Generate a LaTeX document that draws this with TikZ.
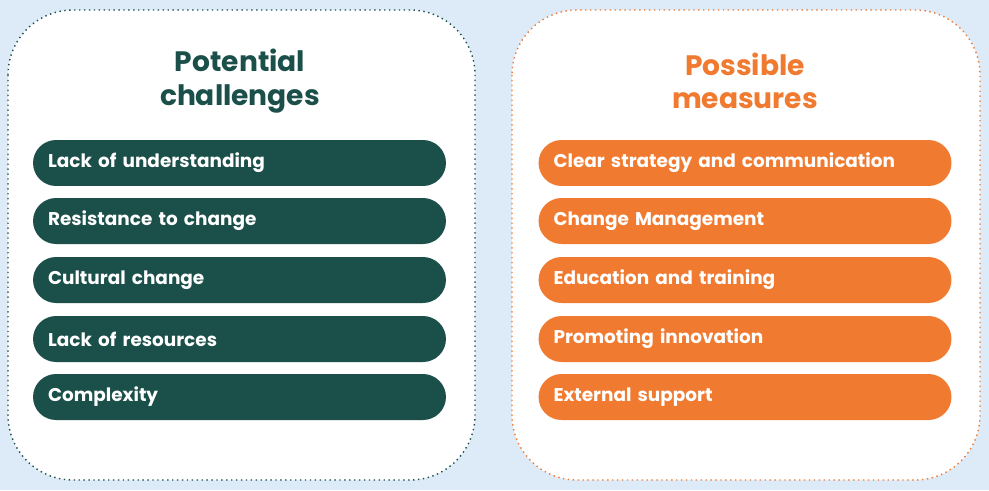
\documentclass[tikz,border=0pt]{standalone}
\usepackage{fontspec}
\setmainfont{Poppins}
\definecolor{bgblue}{HTML}{DDEBF9}
\definecolor{darkgreen}{HTML}{1B4F4A}
\definecolor{orange}{HTML}{F07A30}
\tikzset{
  panel/.style={fill=white, draw=#1, dotted, thick, rounded corners=1.3cm},
  pill/.style={fill=#1, rounded corners=0.46cm, minimum width=8.26cm, minimum height=0.92cm,
    text=white, font=\bfseries\fontsize{10.5}{12}\selectfont, align=left, text width=7.66cm, inner xsep=0.3cm},
  title/.style={font=\bfseries\fontsize{16}{19}\selectfont, align=center, text=#1}
}
\begin{document}
\begin{tikzpicture}[x=0.02cm,y=-0.02cm]
    \fill[bgblue] (0,0) rectangle (989,490);
    \useasboundingbox (0,0) rectangle (989,490);
    \draw[panel=darkgreen] (8,10) rectangle (475,480);
    \draw[panel=orange] (512,10) rectangle (980,480);
    \node[title=darkgreen] (titleL) at (240,81) {Potential\\challenges};
    \node[title=orange] (titleR) at (745,81) {Possible\\measures};
    \foreach \y/\txt [count=\i] in {163/Lack of understanding, 221/Resistance to change,
        280/Cultural change, 339/Lack of resources, 397/Complexity}
      \node[pill=darkgreen] (ch\i) at (239.5,\y) {\txt};
    \foreach \y/\txt [count=\i] in {163/Clear strategy and communication, 221/Change Management,
        280/Education and training, 339/Promoting innovation, 397/External support}
      \node[pill=orange] (me\i) at (745,\y) {\txt};
\end{tikzpicture}
\end{document}
